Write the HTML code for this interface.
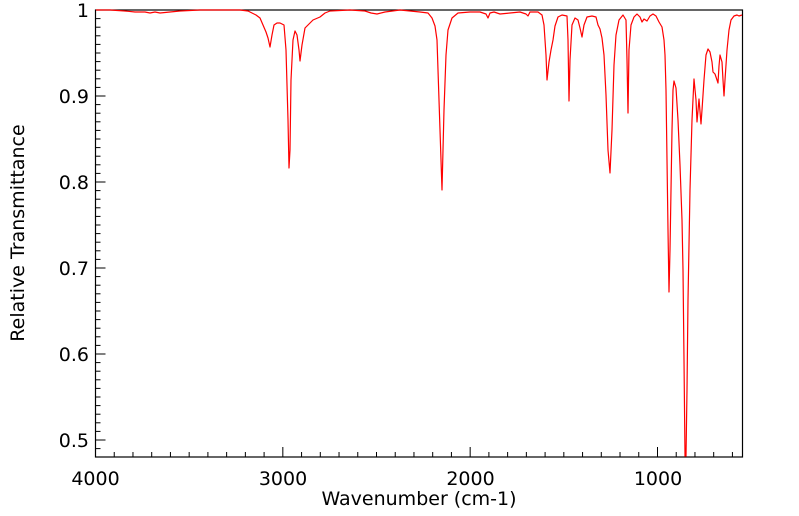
<!DOCTYPE html>
<html><head><meta charset="utf-8"><style>
body{margin:0;background:#fff;}
svg{display:block;font-family:"DejaVu Sans","Liberation Sans",sans-serif;}
</style></head><body>
<svg id="s" width="799" height="516" viewBox="0 0 799 516">
<rect x="95.5" y="10" width="647" height="447" fill="none" stroke="#000" stroke-width="1.2"/>
<g id="ticks" stroke="#000" stroke-width="1"></g>
<g font-size="19" fill="#000" text-anchor="end">
<text x="89" y="17">1</text>
<text x="89" y="103">0.9</text>
<text x="89" y="189">0.8</text>
<text x="89" y="275">0.7</text>
<text x="89" y="361">0.6</text>
<text x="89" y="447">0.5</text>
</g>
<g font-size="19" fill="#000" text-anchor="middle">
<text x="95.5" y="485">4000</text>
<text x="283" y="485">3000</text>
<text x="470.5" y="485">2000</text>
<text x="658" y="485">1000</text>
<text x="419" y="505">Wavenumber (cm-1)</text>
<text transform="translate(24,233) rotate(-90)">Relative Transmittance</text>
</g>
<polyline fill="none" stroke="#f00" stroke-width="1.2" stroke-linejoin="round" points="
96,10 110,10 125,11 135,12 145,12 150,13 155,12 160,13 170,12 180,11 200,10 240,10 248,11 252,13 256,15 260,18 263,25 266,32 268,38 270,47 272,35 274,25 277,23 280,23 284,25 286,50 288,120 289,168 290,150 291,80 293,40 295,31 297,35 299,50 300,61 302,45 305,28 309,24 313,20 320,17 325,13 330,11 350,10 365,11 371,13 377,14 385,12 400,10 420,12 428,13 432,18 435,26 437,40 439,100 442,190 444,110 446,55 448,30 452,18 458,13 470,12 480,12 486,14 488,18 490,13 494,12 500,14 510,13 520,12 526,14 528,16 530,12 538,12 542,15 544,25 546,55 547,80 549,62 551,50 553,40 555,26 558,17 562,15 567,16 568,40 569,101 570,60 572,25 575,18 578,20 580,28 582,37 584,25 587,17 592,16 596,17 598,25 600,29 602,38 604,55 606,95 608,150 610,173 612,130 614,65 616,35 619,20 623,15 626,20 627,60 628,113 629,50 631,25 634,17 637,14 640,17 642,22 644,19 647,21 650,16 653,14 656,16 659,22 662,27 664,40 665,55 666,90 667,160 668,230 669,292 670,250 672,130 673,90 674,81 676,88 678,120 680,165 682,220 683,270 684,360 685,456 686,456 687,390 688,300 690,190 692,120 694,79 696,100 697,122 699,99 701,124 702,110 704,80 706,55 708,49 710,52 712,62 713,72 715,74 717,80 718,83 719,66 720,55 722,62 723,80 724,96 725,80 727,50 729,30 731,20 734,16 737,15 739,16 742,15"/>
</svg>
<script>
var g=document.getElementById('ticks'),h='';
for(var w=4000;w>=600;w-=100){var x=95.5+(4000-w)*0.18733;var L=(w%1000==0)?10:5;h+='<line x1="'+x+'" y1="457" x2="'+x+'" y2="'+(457-L)+'"/>';}
for(var i=0;i<=52;i++){var y=10+i*8.6;if(y>457)break;var L=(i%10==0)?10:5;h+='<line x1="95.5" y1="'+y+'" x2="'+(95.5+L)+'" y2="'+y+'"/>';}
g.innerHTML=h;
</script>
</body></html>
